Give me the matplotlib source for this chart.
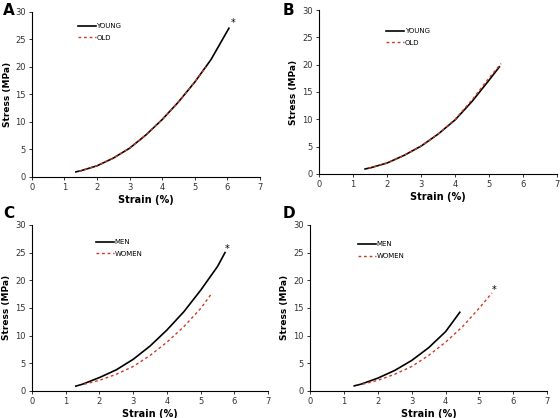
import matplotlib
matplotlib.use("Agg")
import matplotlib.pyplot as plt

# Data
a_young_x = [1.35, 1.5, 2, 2.5, 3, 3.5, 4, 4.5, 5, 5.5, 6.05]
a_young_y = [0.9, 1.1, 2.0, 3.4, 5.2, 7.6, 10.4, 13.6, 17.2, 21.3, 27.0]
a_old_x = [1.45, 2, 2.5, 3, 3.5, 4, 4.5, 5, 5.35]
a_old_y = [1.0, 2.0, 3.4, 5.2, 7.6, 10.4, 13.6, 17.2, 20.0]

b_young_x = [1.35, 1.5, 2, 2.5, 3, 3.5, 4, 4.5, 5, 5.3]
b_young_y = [0.9, 1.1, 2.0, 3.4, 5.1, 7.3, 9.9, 13.3, 17.2, 19.6]
b_old_x = [1.45, 2, 2.5, 3, 3.5, 4, 4.5, 5, 5.35]
b_old_y = [1.0, 2.0, 3.4, 5.1, 7.3, 10.0, 13.6, 17.6, 20.2]

c_men_x = [1.3, 1.5, 2, 2.5, 3, 3.5, 4, 4.5, 5, 5.5, 5.72]
c_men_y = [0.85, 1.2, 2.4, 3.8, 5.7, 8.1, 11.0, 14.3, 18.2, 22.5, 25.0]
c_women_x = [1.55, 2, 2.5, 3, 3.5, 4, 4.5, 5, 5.3]
c_women_y = [1.2, 1.9, 3.0, 4.4, 6.4, 8.8, 11.6, 14.9, 17.4]

d_men_x = [1.3, 1.5, 2, 2.5, 3, 3.5, 4, 4.42]
d_men_y = [0.9, 1.2, 2.3, 3.7, 5.5, 7.8, 10.7, 14.2]
d_women_x = [1.55, 2, 2.5, 3, 3.5, 4, 4.5, 5, 5.37]
d_women_y = [1.2, 1.9, 3.0, 4.4, 6.4, 8.8, 11.6, 15.0, 17.7]

x_ticks = [0, 1, 2, 3, 4, 5, 6, 7]
y_ticks = [0, 5, 10, 15, 20, 25, 30]

panels = [
    ("A", [0.057, 0.577, 0.407, 0.395], a_young_x, a_young_y, a_old_x, a_old_y,
     ("YOUNG", "OLD"), (6.18, 28.0), (0.20, 0.93), (0.005, 0.975)),
    ("B", [0.570, 0.584, 0.425, 0.392], b_young_x, b_young_y, b_old_x, b_old_y,
     ("YOUNG", "OLD"), None, (0.28, 0.89), (0.505, 0.975)),
    ("C", [0.057, 0.065, 0.422, 0.397], c_men_x, c_men_y, c_women_x, c_women_y,
     ("MEN", "WOMEN"), (5.77, 25.6), (0.27, 0.915), (0.005, 0.49)),
    ("D", [0.554, 0.065, 0.423, 0.397], d_men_x, d_men_y, d_women_x, d_women_y,
     ("MEN", "WOMEN"), (5.42, 18.3), (0.20, 0.90), (0.505, 0.49)),
]

red = "#d03a22"
fig = plt.figure(figsize=(5.6, 4.18), dpi=100)
for letter, rect, x1, y1, x2, y2, labels, star, legpos, letpos in panels:
    ax = fig.add_axes(rect)
    ax.plot(x1, y1, color="black", lw=1.2, label=labels[0])
    ax.plot(x2, y2, color=red, lw=1.0, ls=(0, (2, 2)), label=labels[1])
    ax.set_xlim(0, 7)
    ax.set_ylim(0, 30)
    ax.set_xticks(x_ticks)
    ax.set_yticks(y_ticks)
    for s in ("top", "right"):
        ax.spines[s].set_visible(False)
    ax.spines["left"].set_linewidth(0.8)
    ax.spines["bottom"].set_linewidth(0.8)
    ax.tick_params(labelsize=6, length=2.5, width=0.7, color="#333333",
                   labelcolor="#333333", pad=2)
    ax.set_xlabel("Strain (%)", fontsize=7, fontweight="bold", labelpad=2)
    ax.set_ylabel("Stress (MPa)", fontsize=6.5, fontweight="bold")
    ax.yaxis.set_label_coords(-0.088, 0.5)
    ax.legend(loc="upper left", bbox_to_anchor=legpos, frameon=False,
              fontsize=5, handlelength=2.6, handletextpad=0.1, labelspacing=0.8,
              borderaxespad=0, borderpad=0)
    if star:
        ax.text(star[0], star[1], "*", fontsize=7, ha="center", va="center")
    fig.text(letpos[0], letpos[1], letter, fontsize=11, fontweight="bold",
             ha="left", va="center")

fig.savefig("out.png", dpi=100)
